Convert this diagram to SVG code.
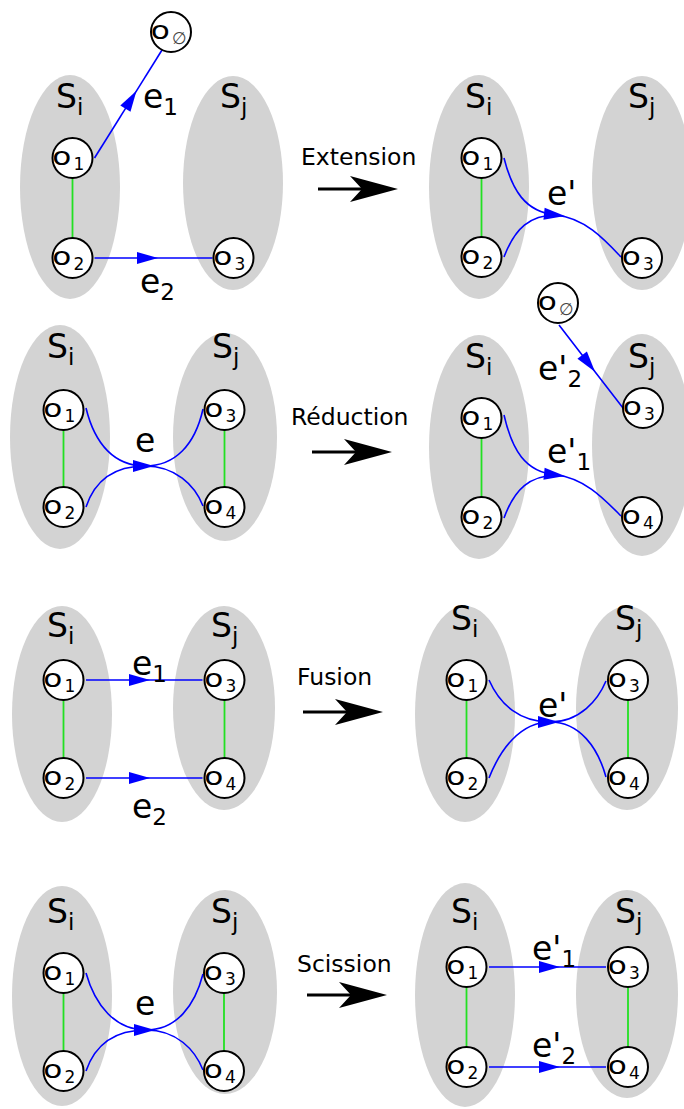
<svg xmlns="http://www.w3.org/2000/svg" xmlns:xlink="http://www.w3.org/1999/xlink" width="684" height="1109" viewBox="0 0 684 1109">
<style>
text{font-family:"DejaVu Sans","Liberation Sans",sans-serif;fill:#000}
.region{fill:#d3d3d3}
.node circle{fill:#fff;stroke:#000;stroke-width:2}
.o{font-size:24px}
.osub{font-size:17px}
.empty{fill:#444}
.lbl{font-size:33px}
.lsub{font-size:23px}
.op{font-size:23.5px}
.blue{stroke:#0000ff;stroke-width:1.6;fill:none}
.green{stroke:#22e022;stroke-width:1.8;fill:none}
</style>
<defs>
<marker id="ah" markerUnits="userSpaceOnUse" markerWidth="24" markerHeight="14" refX="21" refY="6" orient="auto" overflow="visible"><path d="M0,0 L21,6 L0,12 z" fill="#0000ff"/></marker>
<marker id="ahc" markerUnits="userSpaceOnUse" markerWidth="24" markerHeight="14" refX="12" refY="6" orient="auto" overflow="visible"><path d="M0,0 L21,6 L0,12 z" fill="#0000ff"/></marker>
<g id="bigarrow"><line x1="-80" y1="0" x2="-34" y2="0" stroke="#000" stroke-width="3"/><path d="M-48,-13 L0,0 L-48,13 L-36,0 z" fill="#000"/></g>
<text id="oglyph" class="o" x="0" y="0" transform="scale(1.3,1)">o</text>
</defs>

<!-- regions -->
<g id="regions">
<ellipse id="p1-Si" class="region" cx="70" cy="187" rx="50" ry="112"/>
<ellipse id="p1-Sj" class="region" cx="233" cy="183" rx="50" ry="107"/>
<ellipse id="p2-Si" class="region" cx="479" cy="187" rx="50" ry="112"/>
<ellipse id="p2-Sj" class="region" cx="642" cy="183" rx="50" ry="107"/>
<ellipse id="p3-Si" class="region" cx="60" cy="437" rx="50" ry="112"/>
<ellipse id="p3-Sj" class="region" cx="225" cy="437" rx="52" ry="104"/>
<ellipse id="p4-Si" class="region" cx="479" cy="447" rx="50" ry="112"/>
<ellipse id="p4-Sj" class="region" cx="642" cy="445" rx="50" ry="111"/>
<ellipse id="p5-Si" class="region" cx="62" cy="714" rx="50" ry="108"/>
<ellipse id="p5-Sj" class="region" cx="224" cy="708" rx="51" ry="102"/>
<ellipse id="p6-Si" class="region" cx="465" cy="714" rx="50" ry="108"/>
<ellipse id="p6-Sj" class="region" cx="627" cy="708" rx="51" ry="102"/>
<ellipse id="p7-Si" class="region" cx="62" cy="996" rx="50" ry="110"/>
<ellipse id="p7-Sj" class="region" cx="225" cy="992" rx="52" ry="102"/>
<ellipse id="p8-Si" class="region" cx="465" cy="995" rx="50" ry="112"/>
<ellipse id="p8-Sj" class="region" cx="627" cy="994" rx="51" ry="104"/>
</g>

<!-- region labels -->
<g id="region-labels">
<text class="lbl" x="56" y="108">S<tspan class="lsub" dy="7">i</tspan></text>
<text class="lbl" x="220" y="108">S<tspan class="lsub" dy="7">j</tspan></text>
<text class="lbl" x="465" y="108">S<tspan class="lsub" dy="7">i</tspan></text>
<text class="lbl" x="628" y="108">S<tspan class="lsub" dy="7">j</tspan></text>
<text class="lbl" x="47" y="358">S<tspan class="lsub" dy="7">i</tspan></text>
<text class="lbl" x="212" y="358">S<tspan class="lsub" dy="7">j</tspan></text>
<text class="lbl" x="465" y="368">S<tspan class="lsub" dy="7">i</tspan></text>
<text class="lbl" x="628" y="368">S<tspan class="lsub" dy="7">j</tspan></text>
<text class="lbl" x="47" y="637">S<tspan class="lsub" dy="7">i</tspan></text>
<text class="lbl" x="211" y="637">S<tspan class="lsub" dy="7">j</tspan></text>
<text class="lbl" x="451" y="630">S<tspan class="lsub" dy="7">i</tspan></text>
<text class="lbl" x="615" y="630">S<tspan class="lsub" dy="7">j</tspan></text>
<text class="lbl" x="47" y="923">S<tspan class="lsub" dy="7">i</tspan></text>
<text class="lbl" x="211" y="923">S<tspan class="lsub" dy="7">j</tspan></text>
<text class="lbl" x="451" y="923">S<tspan class="lsub" dy="7">i</tspan></text>
<text class="lbl" x="615" y="923">S<tspan class="lsub" dy="7">j</tspan></text>
</g>

<!-- connectors -->
<g id="connectors">
<line class="green" x1="72.5" y1="178" x2="72.5" y2="238"/>
<path class="blue" d="M94.5,158 L136.5,90.8 L162,50" marker-mid="url(#ah)"/>
<path class="blue" d="M94.5,258 L158,258 L212.5,258" marker-mid="url(#ah)"/>

<line class="green" x1="481.5" y1="178" x2="481.5" y2="237"/>
<path class="blue" d="M504,158 C512,190 525,212 556,215 C585,218 605,240 621,257" marker-mid="url(#ahc)"/>
<path class="blue" d="M504,257 C515,228 530,215 556,215"/>

<line class="green" x1="63.5" y1="430" x2="63.5" y2="487"/>
<line class="green" x1="224.5" y1="430" x2="224.5" y2="487"/>
<path class="blue" d="M86,408 C95,445 115,466 145,466 C175,466 195,485 203,506" marker-mid="url(#ahc)"/>
<path class="blue" d="M86,507 C95,480 115,466 145,466 C175,466 195,445 203,409"/>

<line class="green" x1="481.5" y1="438" x2="481.5" y2="497"/>
<path class="blue" d="M559,325 L595,371.7 L623,408" marker-mid="url(#ah)"/>
<path class="blue" d="M504,415 C512,450 525,472 556,475 C585,478 605,500 621,516" marker-mid="url(#ahc)"/>
<path class="blue" d="M504,518 C515,488 530,476 556,475"/>

<line class="green" x1="63.5" y1="700" x2="63.5" y2="758"/>
<line class="green" x1="224.5" y1="700" x2="224.5" y2="758"/>
<path class="blue" d="M86,680 L150,680 L202.5,680" marker-mid="url(#ah)"/>
<path class="blue" d="M86,778 L150,778 L202.5,778" marker-mid="url(#ah)"/>

<line class="green" x1="466.5" y1="700" x2="466.5" y2="758"/>
<line class="green" x1="628" y1="700" x2="628" y2="758"/>
<path class="blue" d="M489,680 C500,705 520,722 550,722 C580,722 598,748 606,777" marker-mid="url(#ahc)"/>
<path class="blue" d="M489,778 C500,750 520,722 550,722 C580,722 598,700 606,681"/>

<line class="green" x1="63.5" y1="993" x2="63.5" y2="1051"/>
<line class="green" x1="224" y1="993" x2="224" y2="1051"/>
<path class="blue" d="M86,973 C95,1005 115,1030 146,1030 C177,1030 195,1050 203,1070" marker-mid="url(#ahc)"/>
<path class="blue" d="M86,1071 C95,1045 115,1030 146,1030 C177,1030 195,1005 203,974"/>

<line class="green" x1="466.5" y1="987" x2="466.5" y2="1047"/>
<line class="green" x1="628" y1="987" x2="628" y2="1047"/>
<path class="blue" d="M489,967 L560,967 L606,967" marker-mid="url(#ah)"/>
<path class="blue" d="M489,1067 L560,1067 L606,1067" marker-mid="url(#ah)"/>
</g>

<!-- edge labels -->
<g id="edge-labels">
<text class="lbl" x="143" y="108">e<tspan class="lsub" dy="7">1</tspan></text>
<text class="lbl" x="140" y="293">e<tspan class="lsub" dy="7">2</tspan></text>
<text class="lbl" x="547" y="205">e'</text>
<text class="lbl" x="135" y="452">e</text>
<text class="lbl" x="538" y="380">e'<tspan class="lsub" dy="7">2</tspan></text>
<text class="lbl" x="547" y="463">e'<tspan class="lsub" dy="7">1</tspan></text>
<text class="lbl" x="132" y="675">e<tspan class="lsub" dy="7">1</tspan></text>
<text class="lbl" x="132" y="818">e<tspan class="lsub" dy="7">2</tspan></text>
<text class="lbl" x="538" y="717">e'</text>
<text class="lbl" x="135" y="1015">e</text>
<text class="lbl" x="532" y="960">e'<tspan class="lsub" dy="7">1</tspan></text>
<text class="lbl" x="532" y="1057">e'<tspan class="lsub" dy="7">2</tspan></text>
</g>

<!-- operations -->
<g id="op-extension"><text class="op" x="301" y="165">Extension</text><use xlink:href="#bigarrow" transform="translate(398,189)"/></g>
<g id="op-reduction"><text class="op" x="291" y="425">Réduction</text><use xlink:href="#bigarrow" transform="translate(392,452)"/></g>
<g id="op-fusion"><text class="op" x="297" y="685">Fusion</text><use xlink:href="#bigarrow" transform="translate(383,712)"/></g>
<g id="op-scission"><text class="op" x="297" y="972">Scission</text><use xlink:href="#bigarrow" transform="translate(387,995)"/></g>

<!-- nodes -->
<g id="p1-o1" class="node"><circle cx="72.5" cy="158" r="20"/><use xlink:href="#oglyph" x="52.3" y="165"/><text class="osub" x="73.5" y="170">1</text></g>
<g id="p1-o2" class="node"><circle cx="72.5" cy="258" r="20"/><use xlink:href="#oglyph" x="52.3" y="265"/><text class="osub" x="73.5" y="270">2</text></g>
<g id="p1-o3" class="node"><circle cx="233.5" cy="258" r="20"/><use xlink:href="#oglyph" x="213.3" y="265"/><text class="osub" x="234.5" y="270">3</text></g>
<g id="p1-oempty" class="node"><circle cx="171" cy="32" r="20"/><use xlink:href="#oglyph" x="150.8" y="39"/><text class="osub empty" x="172" y="44">∅</text></g>

<g id="p2-o1" class="node"><circle cx="481.5" cy="158" r="20"/><use xlink:href="#oglyph" x="461.3" y="165"/><text class="osub" x="482.5" y="170">1</text></g>
<g id="p2-o2" class="node"><circle cx="481.5" cy="257" r="20"/><use xlink:href="#oglyph" x="461.3" y="264"/><text class="osub" x="482.5" y="269">2</text></g>
<g id="p2-o3" class="node"><circle cx="642" cy="258" r="20"/><use xlink:href="#oglyph" x="621.8" y="265"/><text class="osub" x="643" y="270">3</text></g>

<g id="p3-o1" class="node"><circle cx="63.5" cy="410" r="20"/><use xlink:href="#oglyph" x="43.3" y="417"/><text class="osub" x="64.5" y="422">1</text></g>
<g id="p3-o2" class="node"><circle cx="63.5" cy="507" r="20"/><use xlink:href="#oglyph" x="43.3" y="514"/><text class="osub" x="64.5" y="519">2</text></g>
<g id="p3-o3" class="node"><circle cx="224.5" cy="410" r="20"/><use xlink:href="#oglyph" x="204.3" y="417"/><text class="osub" x="225.5" y="422">3</text></g>
<g id="p3-o4" class="node"><circle cx="224.5" cy="507" r="20"/><use xlink:href="#oglyph" x="204.3" y="514"/><text class="osub" x="225.5" y="519">4</text></g>

<g id="p4-oempty" class="node"><circle cx="558" cy="303" r="20"/><use xlink:href="#oglyph" x="537.8" y="310"/><text class="osub empty" x="559" y="315">∅</text></g>
<g id="p4-o1" class="node"><circle cx="481.5" cy="418" r="20"/><use xlink:href="#oglyph" x="461.3" y="425"/><text class="osub" x="482.5" y="430">1</text></g>
<g id="p4-o2" class="node"><circle cx="481.5" cy="517" r="20"/><use xlink:href="#oglyph" x="461.3" y="524"/><text class="osub" x="482.5" y="529">2</text></g>
<g id="p4-o3" class="node"><circle cx="643" cy="408" r="20"/><use xlink:href="#oglyph" x="622.8" y="415"/><text class="osub" x="644" y="420">3</text></g>
<g id="p4-o4" class="node"><circle cx="642" cy="517" r="20"/><use xlink:href="#oglyph" x="621.8" y="524"/><text class="osub" x="643" y="529">4</text></g>

<g id="p5-o1" class="node"><circle cx="63.5" cy="680" r="20"/><use xlink:href="#oglyph" x="43.3" y="687"/><text class="osub" x="64.5" y="692">1</text></g>
<g id="p5-o2" class="node"><circle cx="63.5" cy="778" r="20"/><use xlink:href="#oglyph" x="43.3" y="785"/><text class="osub" x="64.5" y="790">2</text></g>
<g id="p5-o3" class="node"><circle cx="224.5" cy="680" r="20"/><use xlink:href="#oglyph" x="204.3" y="687"/><text class="osub" x="225.5" y="692">3</text></g>
<g id="p5-o4" class="node"><circle cx="224.5" cy="778" r="20"/><use xlink:href="#oglyph" x="204.3" y="785"/><text class="osub" x="225.5" y="790">4</text></g>

<g id="p6-o1" class="node"><circle cx="466.5" cy="680" r="20"/><use xlink:href="#oglyph" x="446.3" y="687"/><text class="osub" x="467.5" y="692">1</text></g>
<g id="p6-o2" class="node"><circle cx="466.5" cy="778" r="20"/><use xlink:href="#oglyph" x="446.3" y="785"/><text class="osub" x="467.5" y="790">2</text></g>
<g id="p6-o3" class="node"><circle cx="628" cy="680" r="20"/><use xlink:href="#oglyph" x="607.8" y="687"/><text class="osub" x="629" y="692">3</text></g>
<g id="p6-o4" class="node"><circle cx="628" cy="778" r="20"/><use xlink:href="#oglyph" x="607.8" y="785"/><text class="osub" x="629" y="790">4</text></g>

<g id="p7-o1" class="node"><circle cx="63.5" cy="973" r="20"/><use xlink:href="#oglyph" x="43.3" y="980"/><text class="osub" x="64.5" y="985">1</text></g>
<g id="p7-o2" class="node"><circle cx="63.5" cy="1071" r="20"/><use xlink:href="#oglyph" x="43.3" y="1078"/><text class="osub" x="64.5" y="1083">2</text></g>
<g id="p7-o3" class="node"><circle cx="224" cy="973" r="20"/><use xlink:href="#oglyph" x="203.8" y="980"/><text class="osub" x="225" y="985">3</text></g>
<g id="p7-o4" class="node"><circle cx="224" cy="1071" r="20"/><use xlink:href="#oglyph" x="203.8" y="1078"/><text class="osub" x="225" y="1083">4</text></g>

<g id="p8-o1" class="node"><circle cx="466.5" cy="967" r="20"/><use xlink:href="#oglyph" x="446.3" y="974"/><text class="osub" x="467.5" y="979">1</text></g>
<g id="p8-o2" class="node"><circle cx="466.5" cy="1067" r="20"/><use xlink:href="#oglyph" x="446.3" y="1074"/><text class="osub" x="467.5" y="1079">2</text></g>
<g id="p8-o3" class="node"><circle cx="628" cy="967" r="20"/><use xlink:href="#oglyph" x="607.8" y="974"/><text class="osub" x="629" y="979">3</text></g>
<g id="p8-o4" class="node"><circle cx="628" cy="1067" r="20"/><use xlink:href="#oglyph" x="607.8" y="1074"/><text class="osub" x="629" y="1079">4</text></g>
</svg>
